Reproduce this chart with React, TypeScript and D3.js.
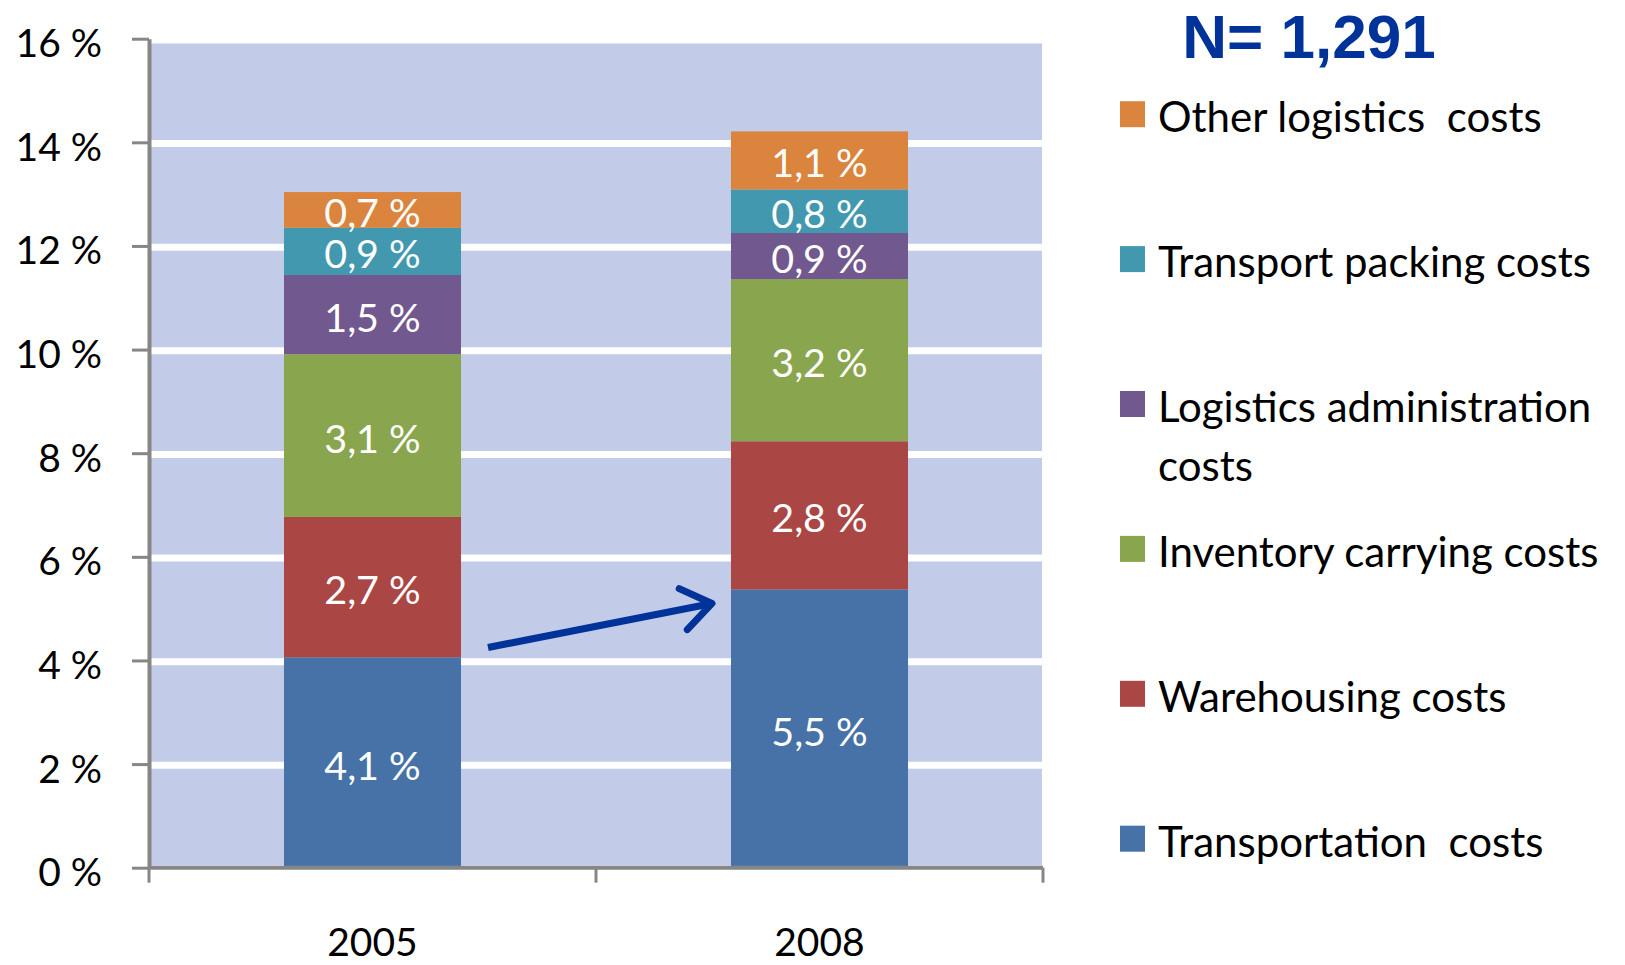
import * as d3 from "d3";
import { useRef, useEffect } from "react";

const years = ["2005", "2008"];
// bottom to top of each stack
const costTypes = [
  "Transportation  costs",
  "Warehousing costs",
  "Inventory carrying costs",
  "Logistics administration costs",
  "Transport packing costs",
  "Other logistics  costs",
];
const colors = ["#4672A8", "#AA4643", "#89A54E", "#71588F", "#4198AF", "#DB843D"];
const values2005 = [4.06, 2.71, 3.14, 1.53, 0.91, 0.69];
const values2008 = [5.37, 2.86, 3.13, 0.89, 0.84, 1.12];
const labels2005 = ["4,1 %", "2,7 %", "3,1 %", "1,5 %", "0,9 %", "0,7 %"];
const labels2008 = ["5,5 %", "2,8 %", "3,2 %", "0,9 %", "0,8 %", "1,1 %"];
const yTicks = [0, 2, 4, 6, 8, 10, 12, 14, 16];
const sampleSize = "N= 1,291";

const width = 1625;
const height = 965;
const font = "Lato, 'Open Sans', sans-serif";

export default function App() {
  const gy = useRef<SVGGElement>(null);

  const x = d3.scaleBand<string>()
    .domain(years)
    .range([149, 1043])
    .paddingInner(0.604)
    .paddingOuter(0.302);

  const y = d3.scaleLinear().domain([0, 16]).range([867.7, 38.7]);

  const rows = years.map((yr, i) => {
    const vals = i === 0 ? values2005 : values2008;
    const o: any = { year: yr };
    costTypes.forEach((c, j) => (o[c] = vals[j]));
    return o;
  });
  const series = d3.stack().keys(costTypes)(rows);
  const allLabels = [labels2005, labels2008];

  useEffect(() => {
    const g = d3.select(gy.current);
    g.call(
      d3.axisLeft(y)
        .tickValues(yTicks)
        .tickSize(17)
        .tickSizeOuter(0)
        .tickPadding(30)
        .tickFormat((d) => `${d} %`)
    );
    g.select(".domain").attr("stroke", "#868686").attr("stroke-width", 4);
    g.selectAll(".tick line").attr("stroke", "#868686").attr("stroke-width", 3);
    g.selectAll(".tick text")
      .attr("fill", "#000")
      .attr("dy", "0.46em")
      .style("font-family", font)
      .style("font-size", "39px");
  }, []);

  const step = x.step();
  const x0 = x.range()[0];
  const boundaries = d3.range(years.length + 1).map((i) => x0 + i * step);
  const bw = x.bandwidth();

  // arrow from 2005 blue top area to 2008 blue top
  const ax1 = x("2005")! + bw + 27;
  const ay1 = y(4.25);
  const ax2 = x("2008")! - 19;
  const ay2 = y(5.1);
  const ang = Math.atan2(ay2 - ay1, ax2 - ax1);
  const head = 36;
  const spread = 0.62;
  const h1 = [ax2 - head * Math.cos(ang - spread), ay2 - head * Math.sin(ang - spread)];
  const h2 = [ax2 - head * Math.cos(ang + spread), ay2 - head * Math.sin(ang + spread)];

  return (
    <svg
      width={width}
      height={height}
      style={{ position: "absolute", left: 0, top: 0, background: "#fff" }}
    >
      {/* plot background */}
      <rect x={149} y={y(16)} width={1042 - 149} height={y(0) - y(16)} fill="#C2CBE7" />
      {yTicks.map((t) => (
        <line key={t} x1={149} x2={1042} y1={y(t) + 1.2} y2={y(t) + 1.2} stroke="#fff" strokeWidth={7} />
      ))}

      {/* bars */}
      {series.map((s, j) => (
        <g key={s.key} fill={colors[j]}>
          {s.map((d, i) => (
            <rect
              key={i}
              x={x(years[i])}
              y={y(d[1])}
              width={bw}
              height={y(d[0]) - y(d[1])}
            />
          ))}
        </g>
      ))}

      {/* segment labels */}
      {series.map((s, j) => (
        <g key={"l" + s.key}>
          {s.map((d, i) => (
            <text
              key={i}
              x={x(years[i])! + bw / 2}
              y={(y(d[0]) + y(d[1])) / 2 + 17}
              textAnchor="middle"
              fill="#fff"
              style={{ fontFamily: font, fontSize: 39.5 }}
            >
              {allLabels[i][j]}
            </text>
          ))}
        </g>
      ))}

      {/* y axis */}
      <g ref={gy} transform="translate(149,0)" />

      {/* x axis */}
      <line x1={149} x2={1043} y1={y(0)} y2={y(0)} stroke="#868686" strokeWidth={4} />
      {boundaries.map((b, i) => (
        <line key={i} x1={b} x2={b} y1={y(0)} y2={y(0) + 15} stroke="#868686" strokeWidth={3} />
      ))}
      {years.map((yr) => (
        <text
          key={yr}
          x={x(yr)! + bw / 2}
          y={956}
          textAnchor="middle"
          fill="#000"
          style={{ fontFamily: font, fontSize: 39 }}
        >
          {yr}
        </text>
      ))}

      {/* arrow */}
      <g stroke="#003399" strokeWidth={7} fill="none" strokeLinecap="round" strokeLinejoin="round">
        <line x1={ax1} y1={ay1} x2={ax2} y2={ay2} strokeLinecap="butt" />
        <polyline points={`${h1[0]},${h1[1]} ${ax2},${ay2} ${h2[0]},${h2[1]}`} />
      </g>

      {/* sample size */}
      <text
        x={1309}
        y={57.6}
        textAnchor="middle"
        fill="#003399"
        style={{ fontFamily: "'Liberation Sans', Arial, sans-serif", fontSize: 62, fontWeight: 700 }}
      >
        {sampleSize}
      </text>

      {/* legend, top item first */}
      {costTypes
        .slice()
        .reverse()
        .map((c, k) => {
          const j = costTypes.length - 1 - k;
          const base = 132.2 + k * 144.9;
          const words = c === "Logistics administration costs" ? ["Logistics administration", "costs"] : [c];
          return (
            <g key={c}>
              <rect x={1120} y={base - 31} width={25} height={26} fill={colors[j]} />
              <text fill="#000" style={{ fontFamily: font, fontSize: 42, whiteSpace: "pre" }}>
                {words.map((w, wi) => (
                  <tspan key={wi} x={1158} y={base + wi * 58.6}>
                    {w}
                  </tspan>
                ))}
              </text>
            </g>
          );
        })}
    </svg>
  );
}
